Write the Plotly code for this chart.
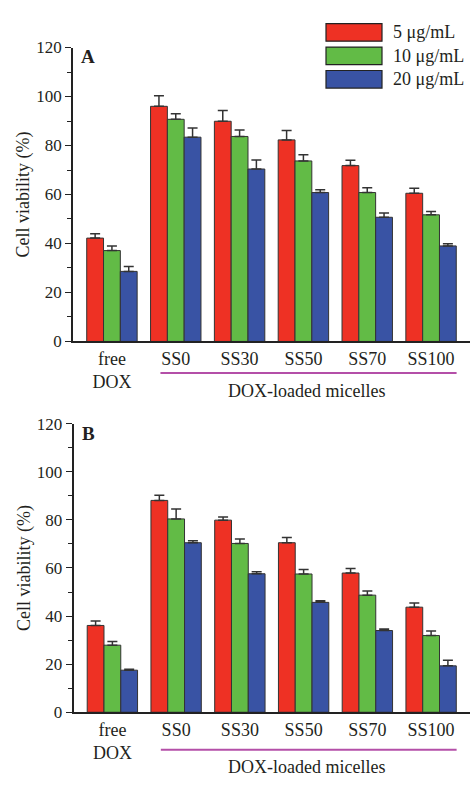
import plotly.graph_objects as go

categories = ["free<br>DOX", "SS0", "SS30", "SS50", "SS70", "SS100"]
series_names = ["5 μg/mL", "10 μg/mL", "20 μg/mL"]
colors = ["#EE3124", "#62BB46", "#3953A4"]

# Panel A
a_5 = [42.2, 96.0, 89.9, 82.3, 71.8, 60.5]
a_5_err = [1.8, 4.3, 4.4, 3.8, 2.2, 2.0]
a_10 = [37.1, 90.7, 83.7, 73.7, 60.8, 51.7]
a_10_err = [1.9, 2.3, 2.6, 2.5, 2.0, 1.4]
a_20 = [28.6, 83.4, 70.4, 60.8, 50.7, 39.0]
a_20_err = [2.0, 3.7, 3.7, 1.1, 1.7, 0.9]

# Panel B
b_5 = [36.1, 88.1, 79.9, 70.5, 57.9, 43.7]
b_5_err = [1.9, 2.1, 1.3, 2.2, 1.9, 1.7]
b_10 = [27.9, 80.4, 70.2, 57.5, 48.7, 31.9]
b_10_err = [1.5, 4.1, 1.9, 1.9, 1.7, 1.9]
b_20 = [17.5, 70.5, 57.6, 45.7, 34.0, 19.3]
b_20_err = [0.4, 0.8, 0.8, 0.7, 0.6, 2.3]

y_ticks = [0, 20, 40, 60, 80, 100, 120]

FONT = "Liberation Serif, Times New Roman, serif"
TXT = "#231F20"
W, H = 470, 785

xpos = list(range(len(categories)))

fig = go.Figure()

panels = [
    ("x", "y", [a_5, a_10, a_20], [a_5_err, a_10_err, a_20_err]),
    ("x2", "y2", [b_5, b_10, b_20], [b_5_err, b_10_err, b_20_err]),
]
for xa, ya, vals, errs in panels:
    for name, col, v, e in zip(series_names, colors, vals, errs):
        fig.add_trace(go.Bar(
            x=xpos, y=v, name=name, xaxis=xa, yaxis=ya, showlegend=False,
            marker=dict(color=col, line=dict(color="#333333", width=1)),
            error_y=dict(type="data", array=e, arrayminus=[0] * len(e), symmetric=False,
                         color="#333333", thickness=1.5, width=5),
        ))

def px_y(p):
    return (H - p) / H

def px_x(p):
    return p / W

axis_common = dict(showline=True, linecolor="#222222", linewidth=1.5, showgrid=False,
                   zeroline=False, tickfont=dict(family=FONT, size=18, color=TXT))

def yaxis_cfg(dom, anchor):
    return dict(domain=dom, range=[0, 120], tickvals=y_ticks,
                ticks="outside", ticklen=6, tickwidth=1.2, tickcolor="#222222",
                minor=dict(dtick=10, ticks="outside", ticklen=4, tickwidth=1, tickcolor="#222222"),
                title=dict(text="Cell viability (%)", font=dict(family=FONT, size=18, color=TXT), standoff=2),
                anchor=anchor, **{**axis_common, "tickfont": dict(family=FONT, size=17, color=TXT)})

fig.update_layout(
    width=W, height=H, margin=dict(l=0, r=0, t=0, b=0),
    paper_bgcolor="white", plot_bgcolor="white",
    barmode="group", bargap=0.21, bargroupgap=0,
    font=dict(family=FONT, color=TXT),
    xaxis=dict(domain=[px_x(73), 1], range=[-0.61, 5.61], tickvals=xpos, ticktext=categories,
               ticks="", anchor="y", **axis_common),
    yaxis=yaxis_cfg([px_y(340.7), px_y(39.5)], "x"),
    xaxis2=dict(domain=[px_x(73.5), 1], range=[-0.61, 5.61], tickvals=xpos, ticktext=categories,
                ticks="", anchor="y2", **axis_common),
    yaxis2=yaxis_cfg([px_y(720.7), px_y(425)], "x2"),
)

shapes = []
annotations = []
# bracket lines and group label
for xref, ly, ty in [("x", 373, 391), ("x2", 759, 777)]:
    shapes.append(dict(type="line", xref=xref, yref="paper", x0=xpos[1] - 0.24, x1=xpos[-1] + 0.4,
                       y0=px_y(ly), y1=px_y(ly), line=dict(color="#B44FA8", width=2)))
    annotations.append(dict(xref=xref, yref="paper", x=(xpos[1] + xpos[-1]) / 2 + 0.05, y=px_y(ty),
                            text="DOX-loaded micelles", showarrow=False,
                            font=dict(family=FONT, size=18, color=TXT), xanchor="center", yanchor="middle"))

# panel letters
for letter, cy in [("A", 49), ("B", 435)]:
    annotations.append(dict(xref="paper", yref="paper", x=px_x(88), y=px_y(cy), text="<b>%s</b>" % letter,
                            showarrow=False, font=dict(family=FONT, size=19, color=TXT),
                            xanchor="center", yanchor="middle"))

# legend
for i, (name, col) in enumerate(zip(series_names, colors)):
    top = 15 + 24 * i
    shapes.append(dict(type="rect", xref="paper", yref="paper", x0=px_x(326), x1=px_x(382),
                       y0=px_y(top + 18), y1=px_y(top), fillcolor=col,
                       line=dict(color="#222222", width=1.2)))
    annotations.append(dict(xref="paper", yref="paper", x=px_x(391), y=px_y(top + 9), text=name,
                            showarrow=False, font=dict(family=FONT, size=18, color=TXT),
                            xanchor="left", yanchor="middle"))

fig.update_layout(shapes=shapes, annotations=annotations)

fig.write_html("out.html")
